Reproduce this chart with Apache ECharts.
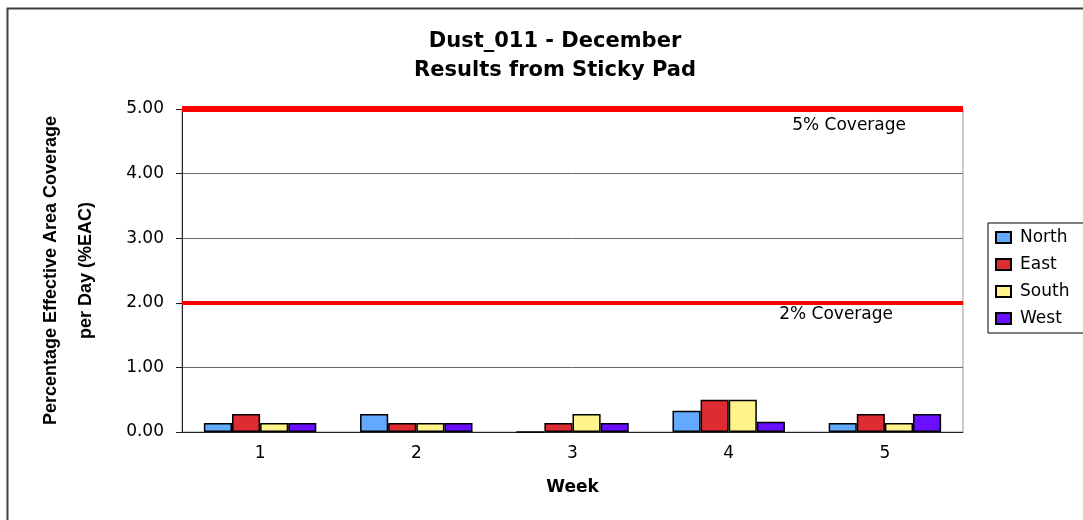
<!DOCTYPE html>
<html>
<head>
<meta charset="utf-8">
<style>
  html, body { margin: 0; padding: 0; background: #fff; }
  #chart { width: 1083px; height: 520px; }
</style>
<script src="https://cdn.jsdelivr.net/npm/echarts@6/dist/echarts.min.js"></script>
</head>
<body>
<div id="chart"></div>
<script>
var weeks = ['1', '2', '3', '4', '5'];
var north = [0.14, 0.28, 0, 0.33, 0.14];
var east = [0.28, 0.14, 0.14, 0.50, 0.28];
var south = [0.14, 0.14, 0.28, 0.50, 0.14];
var west = [0.14, 0.14, 0.14, 0.16, 0.28];
var limits = [5, 2];
var limitNames = ['5% Coverage', '2% Coverage'];

var chart = echarts.init(document.getElementById('chart'));

var font = "'DejaVu Sans', sans-serif";

function barSeries(name, color, data) {
    return {
        name: name,
        type: 'bar',
        barGap: 0,
        barCategoryGap: '28%',
        itemStyle: {
            color: color,
            borderColor: '#000',
            borderWidth: 1.5
        },
        data: data
    };
}

var series = [
    barSeries('North', '#63a9ff', north),
    barSeries('East', '#dd2c32', east),
    barSeries('South', '#fff38c', south),
    barSeries('West', '#6a0fff', west)
];

// red coverage lines
series[0].markLine = {
    silent: true,
    symbol: 'none',
    animation: false,
    data: [{
        yAxis: limits[0],
        lineStyle: { color: '#ff0000', width: 6, type: 'solid' },
        label: {
            show: true,
            formatter: limitNames[0],
            position: 'insideEndBottom',
            distance: [57, 8],
            color: '#000',
            fontFamily: font,
            fontSize: 17
        }
    }, {
        yAxis: limits[1],
        lineStyle: { color: '#ff0000', width: 4, type: 'solid' },
        label: {
            show: true,
            formatter: limitNames[1],
            position: 'insideEndBottom',
            distance: [70, 3],
            color: '#000',
            fontFamily: font,
            fontSize: 17
        }
    }]
};

var option = {
    animation: false,
    title: {
        text: 'Dust_011 - December\nResults from Sticky Pad',
        left: 555,
        top: 27,
        padding: 0,
        textAlign: 'center',
        textStyle: {
            fontFamily: font,
            fontWeight: 'bold',
            fontSize: 21,
            lineHeight: 29,
            color: '#000'
        }
    },
    legend: {
        orient: 'vertical',
        left: 988,
        top: 223,
        padding: [6, 40, 6, 7],
        itemGap: 10,
        itemWidth: 15,
        itemHeight: 11,
        icon: 'rect',
        borderColor: '#000',
        borderWidth: 1,
        borderRadius: 0,
        textStyle: {
            fontFamily: font,
            fontSize: 17,
            color: '#000',
            padding: [0, 0, 0, 4]
        },
        data: ['North', 'East', 'South', 'West']
    },
    grid: {
        left: 182,
        right: 120,
        top: 109,
        bottom: 88,
        show: true,
        borderColor: '#999',
        borderWidth: 1
    },
    xAxis: {
        type: 'category',
        data: weeks,
        name: 'Week',
        nameLocation: 'middle',
        nameGap: 47,
        nameTextStyle: {
            fontFamily: font,
            fontWeight: 'bold',
            fontSize: 17,
            color: '#000'
        },
        axisLine: { lineStyle: { color: '#222', width: 1 } },
        axisTick: { length: 5, lineStyle: { color: '#222' } },
        axisLabel: {
            margin: 13,
            fontFamily: font,
            fontSize: 17,
            color: '#000'
        }
    },
    yAxis: {
        type: 'value',
        min: 0,
        max: 5,
        interval: 1,
        name: 'Percentage Effective Area Coverage\nper Day (%EAC)',
        nameLocation: 'middle',
        nameGap: 78,
        nameTextStyle: {
            fontFamily: "'Liberation Sans', Arial, sans-serif",
            fontWeight: 'bold',
            fontSize: 18,
            lineHeight: 35,
            color: '#000'
        },
        axisLine: { show: true, lineStyle: { color: '#222', width: 1 } },
        axisTick: { show: true, length: 6, lineStyle: { color: '#222' } },
        splitLine: { lineStyle: { color: '#666', width: 1 } },
        axisLabel: {
            margin: 18,
            fontFamily: font,
            fontSize: 17,
            color: '#000',
            formatter: function (v) { return v.toFixed(2); }
        }
    },
    graphic: [{
        type: 'rect',
        left: 5,
        top: 6,
        shape: { width: 1200, height: 700 },
        style: { fill: 'none', stroke: '#404040', lineWidth: 2 },
        silent: true
    }],
    series: series
};

chart.setOption(option);
</script>
</body>
</html>
